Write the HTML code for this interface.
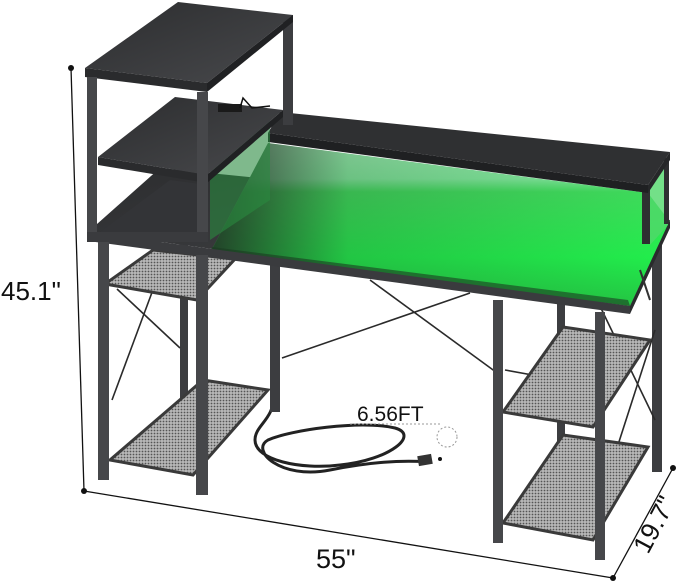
<!DOCTYPE html>
<html><head><meta charset="utf-8"><style>
html,body{margin:0;padding:0;background:#fff;}
svg{display:block}
text{font-family:"Liberation Sans",sans-serif;fill:#111}
</style></head><body>
<svg width="679" height="583" viewBox="0 0 679 583" xmlns="http://www.w3.org/2000/svg">
<defs>
<linearGradient id="g" x1="0" y1="0" x2="0" y2="1">
<stop offset="0" stop-color="#9af0b0"/><stop offset="0.22" stop-color="#7ee99a"/><stop offset="0.3" stop-color="#3fdc5c"/><stop offset="0.7" stop-color="#22ef4c"/><stop offset="1" stop-color="#24c844"/>
</linearGradient>
<linearGradient id="shade" x1="0" y1="0" x2="1" y2="0">
<stop offset="0" stop-color="#222" stop-opacity="0.85"/><stop offset="0.3" stop-color="#222" stop-opacity="0.2"/><stop offset="1" stop-color="#222" stop-opacity="0"/>
</linearGradient>
<linearGradient id="top" x1="0" y1="0" x2="1" y2="1"><stop offset="0" stop-color="#2c2d2f"/><stop offset="1" stop-color="#48494c"/></linearGradient>
<pattern id="mesh" width="3" height="3" patternUnits="userSpaceOnUse"><rect width="3" height="3" fill="#b8b8b8"/><circle cx="1.5" cy="1.5" r="0.9" fill="#555"/></pattern>
</defs>
<!-- dimension lines -->
<line x1="71" y1="68" x2="84" y2="491" stroke="#111" stroke-width="1.3"/>
<line x1="84" y1="491" x2="613" y2="578" stroke="#111" stroke-width="1.3"/>
<line x1="613" y1="578" x2="673" y2="468" stroke="#111" stroke-width="1.3"/>
<circle cx="71" cy="68" r="3" fill="#111"/><circle cx="84" cy="491" r="3" fill="#111"/>
<circle cx="613" cy="578" r="3" fill="#111"/><circle cx="673" cy="468" r="3" fill="#111"/>
<text x="1" y="300" font-size="26">45.1"</text>
<text x="316" y="568" font-size="27">55"</text>
<text x="0" y="0" font-size="26" transform="translate(648,555) rotate(-62)">19.7"</text>
<!-- cord -->
<path d="M274 395 C274 420 255 425 255 440 C255 460 300 470 340 465 C390 460 420 435 395 428 C360 420 290 430 268 440 C250 450 280 480 330 470 C370 462 400 460 430 462" fill="none" stroke="#222" stroke-width="3"/>
<rect x="418" y="455" width="14" height="10" fill="#333" transform="rotate(-10 425 460)"/>
<line x1="350" y1="424" x2="440" y2="424" stroke="#999" stroke-dasharray="2 2"/>
<circle cx="447" cy="437" r="10" fill="none" stroke="#999" stroke-dasharray="2 2"/>
<circle cx="440" cy="459" r="2" fill="#111"/>
<text x="357" y="421" font-size="21">6.56FT</text>
<!-- back legs -->
<rect x="180" y="240" width="8" height="158" fill="#3c3d40"/>
<rect x="270" y="259" width="10" height="153" fill="#3c3d40"/>
<rect x="557" y="300" width="8" height="160" fill="#3c3d40"/>
<rect x="652" y="225" width="10" height="247" fill="#3c3d40"/>
<!-- braces -->
<g stroke="#2a2a2a" stroke-width="1.6">
<line x1="117" y1="289" x2="180" y2="348"/><line x1="167" y1="252" x2="112" y2="400"/>
<line x1="370" y1="280" x2="500" y2="375"/><line x1="282" y1="358" x2="470" y2="293"/>
<line x1="597" y1="300" x2="655" y2="420"/><line x1="655" y1="330" x2="597" y2="510"/>
<line x1="505" y1="370" x2="560" y2="380"/>
</g>
<!-- mesh shelves -->
<polygon points="105,284 197,300 235,259 153,250" fill="url(#mesh)" stroke="#3a3a3a" stroke-width="3"/>
<polygon points="110,460 193,475 268,390 203,380" fill="url(#mesh)" stroke="#3a3a3a" stroke-width="3"/>
<polygon points="503,412 593,427 650,340 563,327" fill="url(#mesh)" stroke="#3a3a3a" stroke-width="3"/>
<polygon points="503,523 593,540 648,447 563,435" fill="url(#mesh)" stroke="#3a3a3a" stroke-width="3"/>
<!-- desk top -->
<polygon points="88,232 160,168 670,220 630,306" fill="url(#top)"/>
<polygon points="210,253 268,143 648,193 670,222 630,306" fill="url(#g)"/>
<polygon points="210,253 268,143 648,193 670,222 630,306" fill="url(#shade)"/>
<polygon points="210,253 630,306 628,300 212,247" fill="#1b3a22" opacity="0.6"/>
<polygon points="88,232 630,306 630,314 88,241" fill="#3a3b3e"/>
<polygon points="630,306 670,220 670,228 630,314" fill="#2a2b2d"/>
<!-- front legs -->
<rect x="98" y="240" width="11" height="240" fill="#46474a"/>
<rect x="196" y="255" width="12" height="240" fill="#46474a"/>
<rect x="493" y="300" width="10" height="243" fill="#46474a"/>
<rect x="595" y="312" width="10" height="248" fill="#46474a"/>
<line x1="640" y1="270" x2="650" y2="300" stroke="#333" stroke-width="2"/>
<!-- monitor shelf -->
<polygon points="650,188 668,160 668,225 650,245" fill="#50d86a" opacity="0.8"/>
<rect x="642" y="186" width="8" height="58" fill="#2e2f31"/>
<rect x="664" y="158" width="5" height="66" fill="#2e2f31"/>
<polygon points="280,112 670,152 648,185 268,133" fill="#2f3032"/>
<polygon points="268,133 648,185 648,193 268,142" fill="#1f2022"/>
<polygon points="648,185 670,152 670,160 648,193" fill="#262729"/>
<!-- left tower -->
<rect x="283" y="15" width="10" height="110" fill="#3c3d40"/>
<polygon points="210,240 210,150 270,120 270,200" fill="#2a8a40" opacity="0.6"/>
<polygon points="98,157 175,97 283,110 207,175" fill="url(#top)"/>
<polygon points="98,157 207,175 207,183 98,165" fill="#2a2b2d"/>
<polygon points="207,175 283,110 283,117 207,183" fill="#202123"/>
<polygon points="100,232 170,180 208,185 208,240" fill="#333437"/>
<polygon points="85,68 178,2 293,15 207,83" fill="url(#top)"/>
<polygon points="85,68 207,83 207,92 85,77" fill="#2a2b2d"/>
<polygon points="207,83 293,15 293,22 207,92" fill="#202123"/>
<rect x="218" y="104" width="24" height="8" fill="#1a1a1a"/>
<path d="M240 108 L243 98 L252 108 L270 106" fill="none" stroke="#111" stroke-width="1.5"/>
<rect x="197" y="92" width="11" height="150" fill="#46474a"/>
<rect x="87" y="77" width="10" height="160" fill="#46474a"/>
<rect x="87" y="232" width="121" height="10" fill="#3a3b3e"/>
</svg>
</body></html>
